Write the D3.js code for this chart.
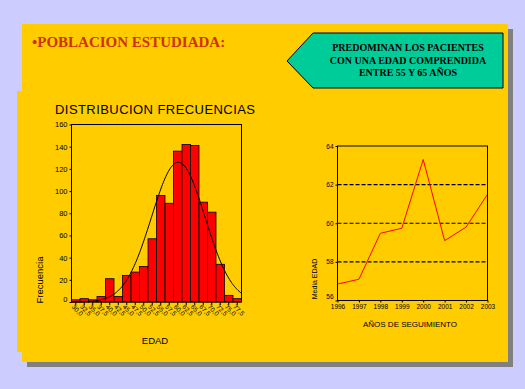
<!DOCTYPE html>
<html>
<head>
<meta charset="utf-8">
<script src="https://cdn.jsdelivr.net/npm/d3@7"></script>
<style>
  body { margin: 0; background: #ccccff; }
  svg { display: block; }
</style>
</head>
<body>
<svg width="525" height="389"></svg>
<script>
// histogram data (EDAD, bin midpoints)
const ageLabels = ["30,0", "32,5", "35,0", "37,5", "40,0", "42,5", "45,0", "47,5", "50,0", "52,5",
  "55,0", "57,5", "60,0", "62,5", "65,0", "67,5", "70,0", "72,5", "75,0", "77,5"];
const ageMids = [30, 32.5, 35, 37.5, 40, 42.5, 45, 47.5, 50, 52.5,
  55, 57.5, 60, 62.5, 65, 67.5, 70, 72.5, 75, 77.5];
const freq = [2, 3, 2, 5, 21, 5, 24, 27, 32, 57, 96, 89, 136, 142, 141, 90, 81, 34, 6, 3];
const freqTicks = [0, 20, 40, 60, 80, 100, 120, 140, 160];

// mean age per year of follow-up
const years = [1996, 1997, 1998, 1999, 2000, 2001, 2002, 2003];
const meanAge = [56.85, 57.1, 59.48, 59.74, 63.3, 59.1, 59.8, 61.5];
const meanTicks = [56, 58, 60, 62, 64];

const svg = d3.select("svg");

// panels
svg.append("rect").attr("x", 27).attr("y", 29).attr("width", 486).attr("height", 338).attr("fill", "#808080");
svg.append("rect").attr("x", 22).attr("y", 24).attr("width", 486).attr("height", 338).attr("fill", "#ffcc00");
svg.append("rect").attr("x", 17).attr("y", 91).attr("width", 20).attr("height", 261).attr("fill", "#ffcc00");

svg.append("text")
  .attr("x", 32).attr("y", 47)
  .attr("font-family", "Liberation Serif, Times New Roman, serif")
  .attr("font-weight", "bold").attr("font-size", 15)
  .attr("fill", "#cc3300")
  .text("\u2022POBLACION ESTUDIADA:");

// callout box
svg.append("polygon")
  .attr("points", "287,61 313,33 503,33 503,88 313,88")
  .attr("fill", "#00cc99").attr("stroke", "#000").attr("stroke-width", 1);

const boxLines = ["PREDOMINAN LOS PACIENTES", "CON UNA EDAD COMPRENDIDA", "ENTRE 55 Y 65 A\u00d1OS"];
svg.append("g")
  .selectAll("text")
  .data(boxLines)
  .join("text")
  .attr("x", 408)
  .attr("y", (d, i) => 51 + i * 12.5)
  .attr("text-anchor", "middle")
  .attr("font-family", "Liberation Serif, Times New Roman, serif")
  .attr("font-weight", "bold").attr("font-size", 10)
  .text(d => d);

// ---- histogram ----
const hx = d3.scaleBand().domain(ageLabels).range([71.5, 241.5]).padding(0);
const hy = d3.scaleLinear().domain([0, 160]).range([302, 124.5]);
const hAge = d3.scaleLinear().domain([28.75, 78.75]).range([71.5, 241.5]);

svg.append("text")
  .attr("x", 55).attr("y", 114)
  .attr("font-family", "Liberation Sans, Arial, sans-serif").attr("font-size", 13)
  .attr("textLength", 200)
  .text("DISTRIBUCION FRECUENCIAS");

svg.append("g")
  .selectAll("rect")
  .data(freq)
  .join("rect")
  .attr("x", (d, i) => hx(ageLabels[i]))
  .attr("y", d => hy(d))
  .attr("width", hx.bandwidth())
  .attr("height", d => hy(0) - hy(d))
  .attr("fill", "#ff0000")
  .attr("stroke", "#000").attr("stroke-width", 0.8);

// fitted normal curve from the histogram
const N = d3.sum(freq);
const mean = d3.sum(freq, (d, i) => d * ageMids[i]) / N;
const sd = Math.sqrt(d3.sum(freq, (d, i) => d * (ageMids[i] - mean) ** 2) / (N - 1));
const binW = 2.5;
const curve = d3.range(28.75, 78.76, 0.25).map(a => [a,
  N * binW * Math.exp(-((a - mean) ** 2) / (2 * sd * sd)) / (sd * Math.sqrt(2 * Math.PI))]);
svg.append("path")
  .datum(curve)
  .attr("fill", "none").attr("stroke", "#000").attr("stroke-width", 1)
  .attr("d", d3.line().x(d => hAge(d[0])).y(d => hy(d[1])));

svg.append("rect")
  .attr("x", 71.5).attr("y", 124.5).attr("width", 170).attr("height", 177.5)
  .attr("fill", "none").attr("stroke", "#000").attr("stroke-width", 1);

const hyAxis = svg.append("g")
  .attr("transform", "translate(71.5,0)")
  .call(d3.axisLeft(hy).tickValues(freqTicks).tickSize(2).tickPadding(2));
hyAxis.select(".domain").remove();
hyAxis.selectAll("text").attr("font-family", "Liberation Sans, Arial, sans-serif").attr("font-size", 7.5).attr("fill", "#000");
hyAxis.selectAll("text").filter(d => d === 0).attr("y", -3);

const hxAxis = svg.append("g")
  .attr("transform", "translate(0,302)")
  .call(d3.axisBottom(hx).tickSize(3).tickPadding(2));
hxAxis.select(".domain").remove();
hxAxis.selectAll("text")
  .attr("font-family", "Liberation Sans, Arial, sans-serif").attr("font-size", 6.5).attr("fill", "#000")
  .attr("text-anchor", "start")
  .attr("transform", "rotate(45)")
  .attr("dy", "0.3em").attr("dx", "0.1em");

svg.append("text")
  .attr("transform", "translate(43,280) rotate(-90)")
  .attr("text-anchor", "middle")
  .attr("font-family", "Liberation Sans, Arial, sans-serif").attr("font-size", 9.5)
  .text("Frecuencia");

svg.append("text")
  .attr("x", 155).attr("y", 344)
  .attr("text-anchor", "middle")
  .attr("font-family", "Liberation Sans, Arial, sans-serif").attr("font-size", 9.5)
  .text("EDAD");

// ---- mean age by year ----
const lx = d3.scaleLinear().domain([1996, 2003]).range([337.5, 487.5]);
const ly = d3.scaleLinear().domain([56, 64]).range([300.5, 146]);
const narrow = "Liberation Sans Narrow, Arial Narrow, Liberation Sans, sans-serif";

svg.append("g")
  .selectAll("line")
  .data([58, 60, 62])
  .join("line")
  .attr("x1", 337.5).attr("x2", 487.5)
  .attr("y1", d => ly(d)).attr("y2", d => ly(d))
  .attr("stroke", "#000").attr("stroke-width", 1.1).attr("stroke-dasharray", "4,2");

svg.append("path")
  .datum(years.map((y, i) => [y, meanAge[i]]))
  .attr("fill", "none").attr("stroke", "#ff0000").attr("stroke-width", 1)
  .attr("d", d3.line().x(d => lx(d[0])).y(d => ly(d[1])));

svg.append("rect")
  .attr("x", 337.5).attr("y", 146).attr("width", 150).attr("height", 154.5)
  .attr("fill", "none").attr("stroke", "#000").attr("stroke-width", 1);

const lyAxis = svg.append("g")
  .attr("transform", "translate(337.5,0)")
  .call(d3.axisLeft(ly).tickValues(meanTicks).tickFormat(d3.format("d")).tickSize(2).tickPadding(2));
lyAxis.select(".domain").remove();
lyAxis.selectAll("text").attr("font-family", narrow).attr("font-size", 6.5).attr("fill", "#000");
lyAxis.selectAll("text").filter(d => d === 56).attr("y", -4);

const lxAxis = svg.append("g")
  .attr("transform", "translate(0,300.5)")
  .call(d3.axisBottom(lx).tickValues(years).tickFormat(d3.format("d")).tickSize(2).tickPadding(2));
lxAxis.select(".domain").remove();
lxAxis.selectAll("text").attr("font-family", narrow).attr("font-size", 6.5).attr("fill", "#000");

svg.append("text")
  .attr("transform", "translate(317,279) rotate(-90)")
  .attr("text-anchor", "middle")
  .attr("font-family", narrow).attr("font-size", 7)
  .text("Media EDAD");

svg.append("text")
  .attr("x", 410).attr("y", 327)
  .attr("text-anchor", "middle")
  .attr("font-family", narrow).attr("font-size", 8)
  .text("A\u00d1OS DE SEGUIMIENTO");
</script>
</body>
</html>
